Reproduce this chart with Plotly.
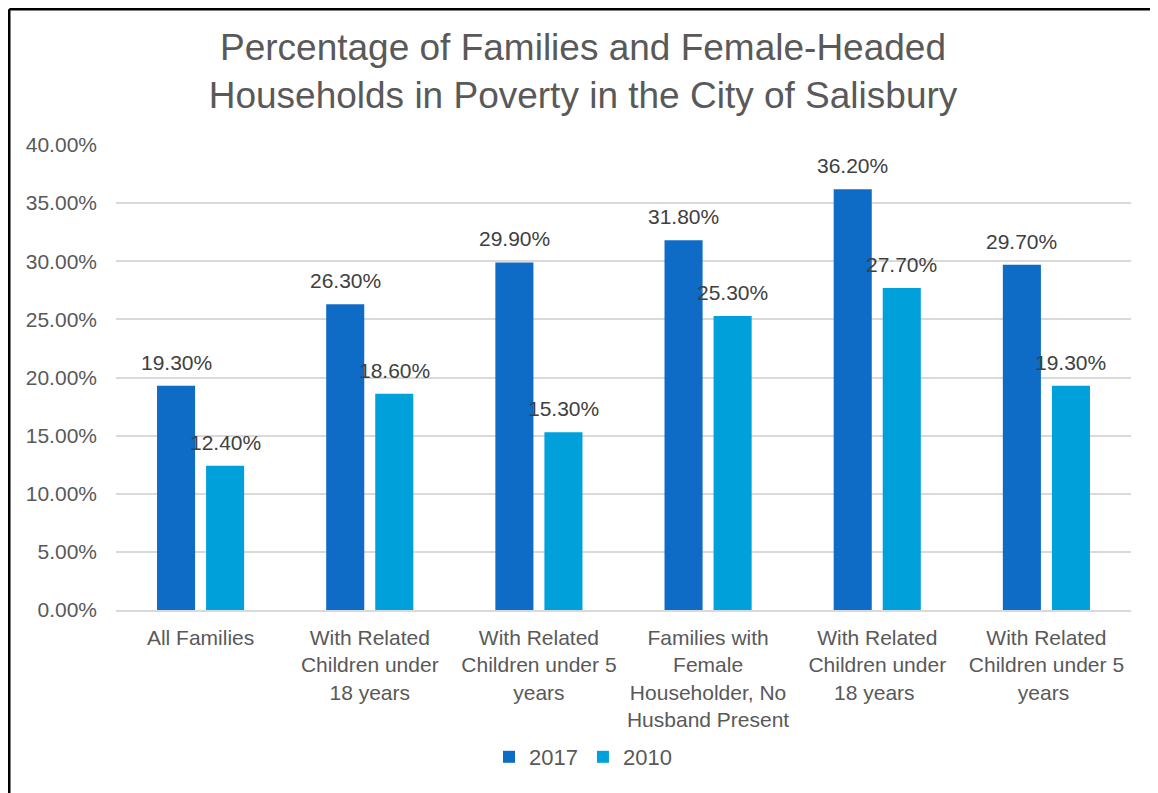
import plotly.graph_objects as go

categories = [
    "All Families",
    "With Related<br>Children under<br>18 years",
    "With Related<br>Children under 5<br>years",
    "Families with<br>Female<br>Householder, No<br>Husband Present",
    "With Related<br>Children under<br>18 years ",
    "With Related<br>Children under 5<br>years ",
]
values_2017 = [19.3, 26.3, 29.9, 31.8, 36.2, 29.7]
values_2010 = [12.4, 18.6, 15.3, 25.3, 27.7, 19.3]
series_names = ["2017", "2010"]
colors = ["#0F6CC6", "#00A0DB"]
tick_vals = [0, 5, 10, 15, 20, 25, 30, 35, 40]

TXT = "#595959"
LBL = "#404040"
FONT = "Liberation Sans, Arial, sans-serif"

fig = go.Figure()
annotations = []
for i, (name, vals, col) in enumerate(zip(series_names, [values_2017, values_2010], colors)):
    fig.add_trace(go.Bar(
        x=categories, y=vals, name=name, offsetgroup=str(i),
        marker=dict(color=col, line=dict(width=0)),
    ))

# page is offset by 8px body margin; reference pixel p -> figure p-8
W, H = 1150, 785
L, R, T, B = 108, 27, 137, 183
pw, ph = W - L - R, H - T - B

def px_x(p):
    return (p - L) / pw

def px_y(p):
    return (H - B - p) / ph

# data labels placed via the category axis with a per-series pixel offset
slot = 49
for i, vals in enumerate([values_2017, values_2010]):
    xs = -slot / 2 if i == 0 else slot / 2
    for c, v in zip(categories, vals):
        annotations.append(dict(
            x=c, y=v, xref="x", yref="y", text=f"{v:.2f}%", showarrow=False,
            xshift=xs, yshift=10, yanchor="bottom", xanchor="center",
            font=dict(size=21, color=LBL, family=FONT),
        ))

fig.update_layout(
    width=W, height=H,
    margin=dict(l=L, r=R, t=T, b=B, autoexpand=False),
    paper_bgcolor="white", plot_bgcolor="white",
    barmode="group", bargap=0.42, bargroupgap=0.224,
    font=dict(family=FONT, color=TXT),
    title=dict(
        text="Percentage of Families and Female-Headed<br>Households in Poverty in the City of Salisbury",
        x=0.5, xanchor="center", xref="container", yref="container",
        y=1 - 52 / H, yanchor="middle",
        font=dict(size=37, color=TXT, family=FONT),
    ),
    xaxis=dict(
        showgrid=False, showline=True, linecolor="#D9D9D9", linewidth=1.5,
        tickfont=dict(size=21, color=TXT, family=FONT), ticks="", ticklabelstandoff=8,
    ),
    yaxis=dict(
        range=[0, 40], tickvals=tick_vals, ticktext=[f"{v:.2f}%" for v in tick_vals],
        showgrid=True, gridcolor="#D9D9D9", gridwidth=1.5, zeroline=False,
        showline=False, ticks="", ticklabelstandoff=18,
        tickfont=dict(size=21, color=TXT, family=FONT),
    ),
    legend=dict(
        orientation="h", x=0.5, xanchor="center", xref="container",
        y=px_y(749), yanchor="middle",
        font=dict(size=22, color=TXT, family=FONT), traceorder="normal",
        itemwidth=30,
    ),
    annotations=annotations,
    shapes=[
        dict(type="line", xref="paper", yref="paper", x0=px_x(1.25), x1=px_x(1200),
             y0=px_y(1.25), y1=px_y(1.25), line=dict(color="black", width=2.5)),
        dict(type="line", xref="paper", yref="paper", x0=px_x(1.25), x1=px_x(1.25),
             y0=px_y(1.25), y1=px_y(820), line=dict(color="black", width=2.5)),
    ],
)

fig.write_html("out.html")
